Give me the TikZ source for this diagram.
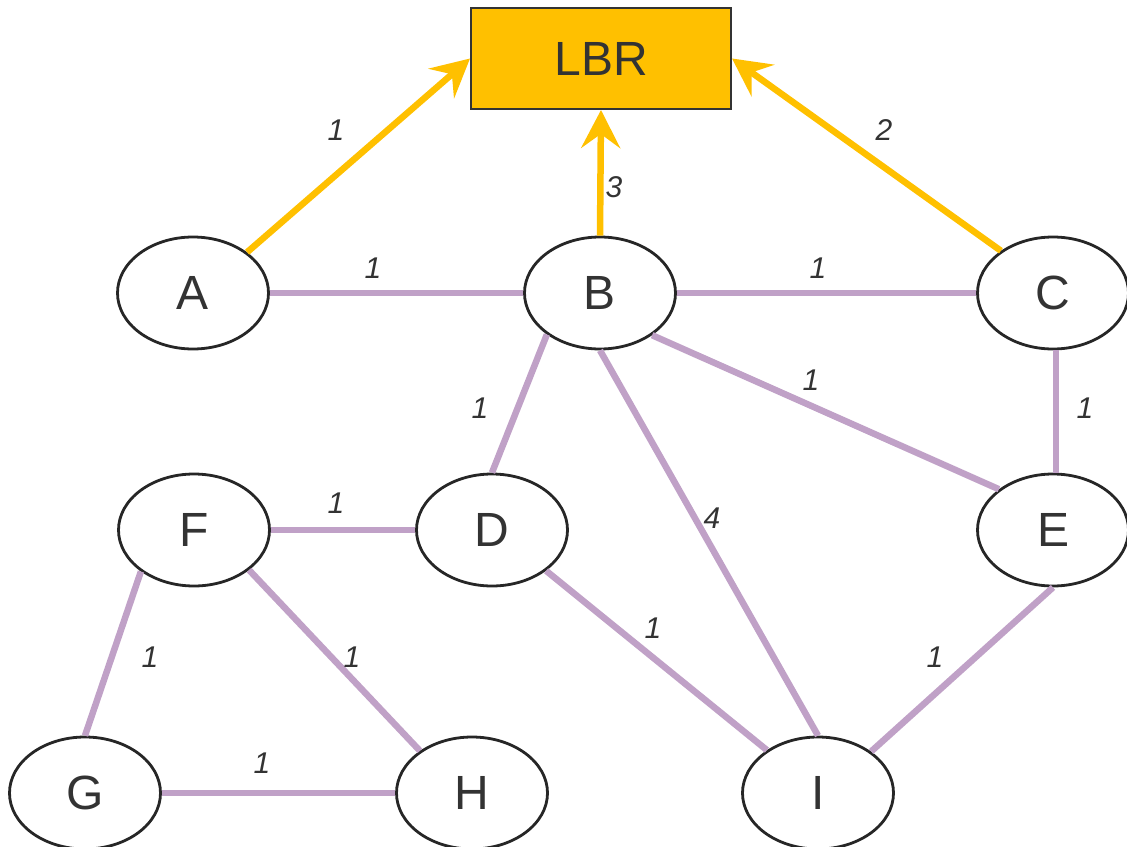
\documentclass[tikz,border=0pt]{standalone}
\usepackage{fontspec}
\setmainfont{Liberation Sans}
\usetikzlibrary{shapes.geometric,arrows.meta}
\definecolor{txt}{HTML}{333333}
\definecolor{gold}{HTML}{FFC000}
\definecolor{lilac}{HTML}{C0A1C7}
\definecolor{rim}{HTML}{262626}
\tikzset{
  vert/.style={ellipse, draw=rim, line width=2.8pt, fill=white, minimum width=151pt, minimum height=112pt, inner sep=0pt, text=txt, font=\fontsize{48}{58}\selectfont},
  hub/.style={rectangle, draw=txt, line width=2pt, fill=gold, minimum width=260pt, minimum height=101pt, inner sep=0pt, text=txt, font=\fontsize{48}{58}\selectfont},
  link/.style={draw=lilac, line width=6.5pt},
  feed/.style={draw=gold, line width=6.5pt, -{Stealth[length=38pt, width=39pt, inset=14pt]}},
  lbl/.style={text=txt, font=\fontsize{30}{36}\selectfont\itshape, inner sep=0pt}
}
\begin{document}
\begin{tikzpicture}[x=1pt,y=-1pt]
\useasboundingbox (0,0) rectangle (1127,846);
\node[hub]  (LBR) at (601,58.5) {LBR};
\node[vert] (A) at (193,293) {A};
\node[vert] (B) at (600,293) {B};
\node[vert] (C) at (1053,293) {C};
\node[vert] (D) at (492,530) {D};
\node[vert] (E) at (1053,530) {E};
\node[vert] (F) at (194,530) {F};
\node[vert] (G) at (85,793) {G};
\node[vert] (H) at (472,793) {H};
\node[vert] (I) at (818,793) {I};
% feeds to LBR
\draw[feed] (A.37) -- (LBR.west) node[lbl] at (336,130) {1};
\draw[feed] (B.north) -- (LBR.south) node[lbl] at (614,187) {3};
\draw[feed] (C.141) -- (LBR.east) node[lbl] at (884,130) {2};
% links
\draw[link] (A.east) -- (B.west) node[lbl] at (373,268) {1};
\draw[link] (B.east) -- (C.west) node[lbl] at (818,268) {1};
\draw[link] (B.-39) -- (E.143) node[lbl] at (811,380) {1};
\draw[link] ([xshift=3pt]C.south) -- ([xshift=3pt]E.north) node[lbl] at (1085,408) {1};
\draw[link] (B.218) -- (D.north) node[lbl] at (480,408) {1};
\draw[link] (B.south) -- (I.north) node[lbl] at (712,518) {4};
\draw[link] (F.east) -- (D.west) node[lbl] at (336,503) {1};
\draw[link] (D.-37) -- (I.140) node[lbl] at (653,628) {1};
\draw[link] (E.south) -- (I.38) node[lbl] at (935,657) {1};
\draw[link] (F.218) -- (G.north) node[lbl] at (150,657) {1};
\draw[link] (F.-36) -- (H.141) node[lbl] at (352,657) {1};
\draw[link] (G.east) -- (H.west) node[lbl] at (262,763) {1};
\end{tikzpicture}
\end{document}
